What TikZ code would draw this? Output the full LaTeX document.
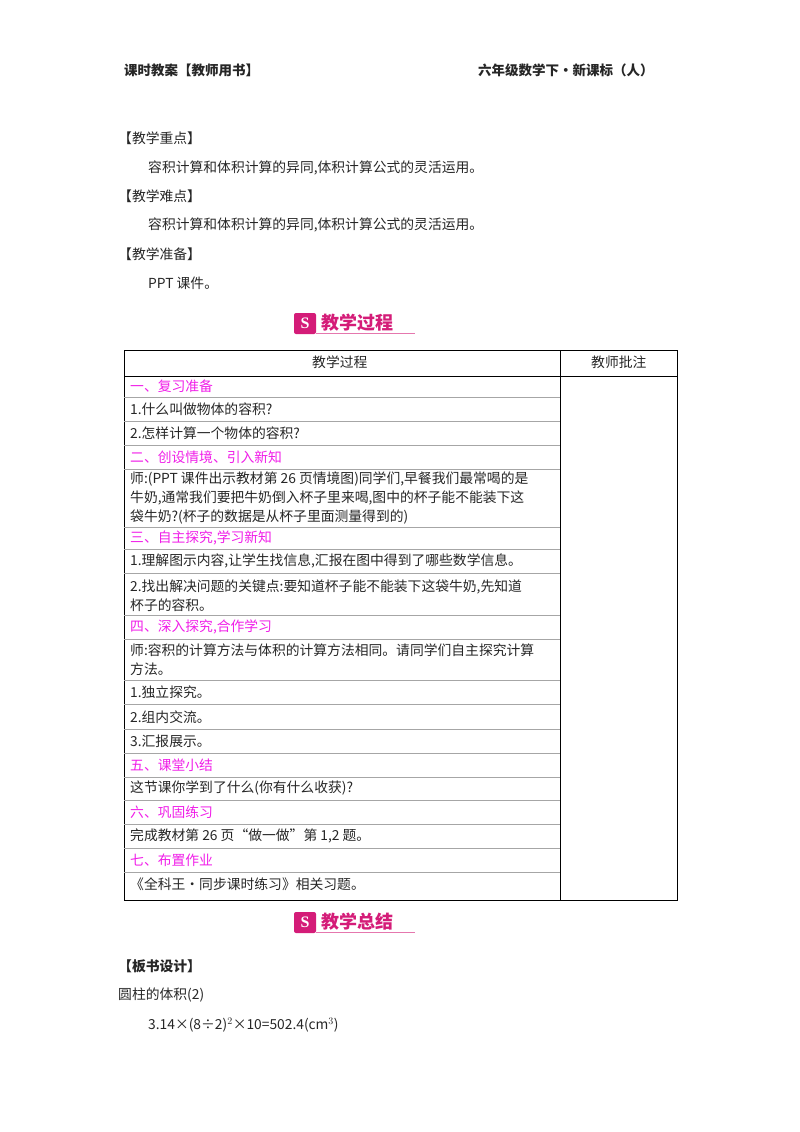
\documentclass[tikz,border=0pt]{standalone}
\usepackage{fontspec}
\setmainfont{Liberation Serif}
\newfontfamily\cjk{Noto Sans CJK SC}
\definecolor{mag}{HTML}{F01EE8}
\definecolor{ban}{HTML}{D41C78}
\begin{document}
\begin{tikzpicture}[x=1pt,y=-1pt,
  t/.style={anchor=west,inner sep=0pt,font=\cjk\fontsize{13.8}{18}\selectfont,text=black!85},
  h/.style={t,text=mag},
  p/.style={t,align=left,font=\cjk\fontsize{13.8}{19}\selectfont},
  rl/.style={draw=black!35,line width=0.5pt},
  bn/.style={anchor=west,inner sep=0pt,font=\cjk\bfseries\fontsize{18}{20}\selectfont,text=ban}]
\useasboundingbox (0,0) rectangle (800,1132);
\node[t,font=\cjk\bfseries\fontsize{13.5}{18}\selectfont] (hl) at (124,70) {课时教案【教师用书】};
\node[t,font=\cjk\bfseries\fontsize{13.5}{18}\selectfont] (hr) at (478,70) {六年级数学下·新课标（人）};
\node[t] (a1) at (118,138) {【教学重点】};
\node[t] (a2) at (148,168) {容积计算和体积计算的异同,体积计算公式的灵活运用。};
\node[t] (a3) at (118,196) {【教学难点】};
\node[t] (a4) at (148,225) {容积计算和体积计算的异同,体积计算公式的灵活运用。};
\node[t] (a5) at (118,254) {【教学准备】};
\node[t] (a6) at (148,283) {PPT 课件。};
% banner 1
\fill[ban,rounded corners=2pt] (294,313) rectangle (316,334);
\node[text=white,font=\bfseries\fontsize{16}{16}\selectfont,inner sep=0pt] (i1) at (305,323.5) {S};
\node[bn] (b1) at (321,323) {教学过程};
\draw[ban!60,line width=0.8pt] (316,333) -- (415,333);
% table
\draw[line width=0.8pt] (124,350) rectangle (677,900);
\draw[line width=0.8pt] (560,350) -- (560,900);
\draw[line width=0.8pt] (124,376) -- (677,376);
\foreach \y in {397,421,445,469,527,549,573,615,639,680,704,729,753,777,800,824,848,872}
  \draw[rl] (124,\y) -- (560,\y);
\node[t] (th1) at (312,362) {教学过程};
\node[t] (th2) at (591,362) {教师批注};
\node[h] (r1) at (130,386) {一、复习准备};
\node[t] (r2) at (130,409) {1.什么叫做物体的容积?};
\node[t] (r3) at (130,433) {2.怎样计算一个物体的容积?};
\node[h] (r4) at (130,457) {二、创设情境、引入新知};
\node[p] (r5) at (130,498) {师:(PPT 课件出示教材第 26 页情境图)同学们,早餐我们最常喝的是\\牛奶,通常我们要把牛奶倒入杯子里来喝,图中的杯子能不能装下这\\袋牛奶?(杯子的数据是从杯子里面测量得到的)};
\node[h] (r6) at (130,538) {三、自主探究,学习新知};
\node[t] (r7) at (130,561) {1.理解图示内容,让学生找信息,汇报在图中得到了哪些数学信息。};
\node[p] (r8) at (130,596) {2.找出解决问题的关键点:要知道杯子能不能装下这袋牛奶,先知道\\杯子的容积。};
\node[h] (r9) at (130,627) {四、深入探究,合作学习};
\node[p] (r10) at (130,660) {师:容积的计算方法与体积的计算方法相同。请同学们自主探究计算\\方法。};
\node[t] (r11) at (130,692) {1.独立探究。};
\node[t] (r12) at (130,717) {2.组内交流。};
\node[t] (r13) at (130,741) {3.汇报展示。};
\node[h] (r14) at (130,765) {五、课堂小结};
\node[t] (r15) at (130,788) {这节课你学到了什么(你有什么收获)?};
\node[h] (r16) at (130,812) {六、巩固练习};
\node[t] (r17) at (130,836) {完成教材第 26 页“做一做”第 1,2 题。};
\node[h] (r18) at (130,860) {七、布置作业};
\node[t] (r19) at (130,884) {《全科王·同步课时练习》相关习题。};
% banner 2
\fill[ban,rounded corners=2pt] (294,912) rectangle (316,933);
\node[text=white,font=\bfseries\fontsize{16}{16}\selectfont,inner sep=0pt] (i2) at (305,922.5) {S};
\node[bn] (b2) at (321,922) {教学总结};
\draw[ban!60,line width=0.8pt] (316,932) -- (415,932);
\node[t,font=\cjk\bfseries\fontsize{13.8}{18}\selectfont] (c1) at (118,966) {【板书设计】};
\node[t] (c2) at (118,995) {圆柱的体积(2)};
\node[t] (c3) at (148,1025) {3.14×(8÷2)$^2$×10=502.4(cm$^3$)};
\end{tikzpicture}
\end{document}
